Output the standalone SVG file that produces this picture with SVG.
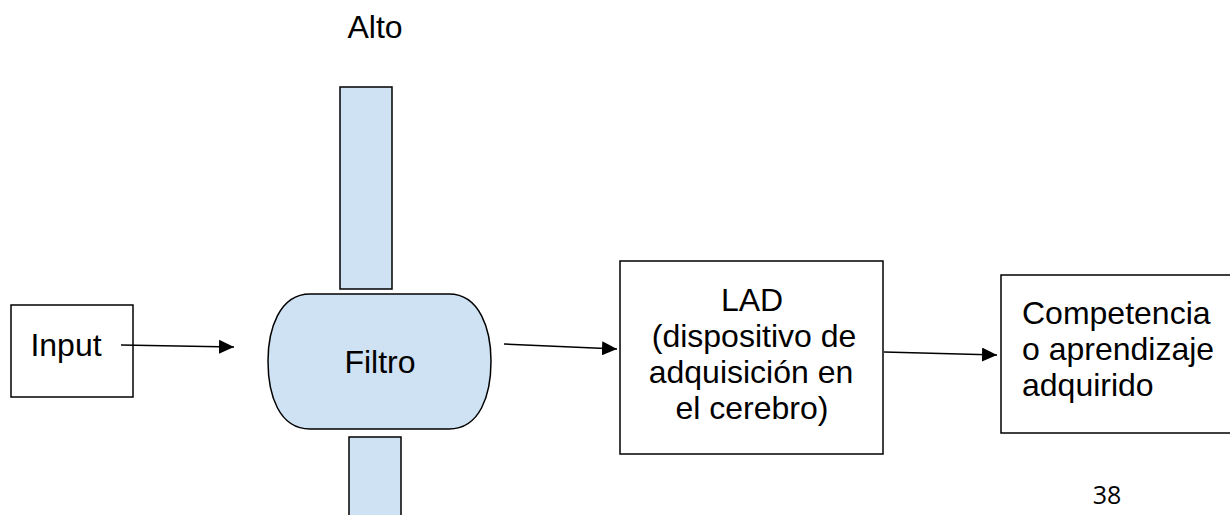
<svg xmlns="http://www.w3.org/2000/svg" width="1230" height="515" viewBox="0 0 1230 515">
<defs>
<style>
.t{font-family:"Liberation Sans",Arial,sans-serif;font-size:32px;fill:#000}
.box{fill:#fff;stroke:#000;stroke-width:1.5}
.blue{fill:#cfe2f3;stroke:#000;stroke-width:1.5}
.ln{stroke:#000;stroke-width:1.5;fill:none;marker-end:url(#ah)}
</style>
<marker id="ah" markerWidth="15" markerHeight="14" refX="15" refY="7" orient="auto" markerUnits="userSpaceOnUse">
<path d="M0,0 L15,7 L0,14 Z" fill="#000"/>
</marker>
</defs>
<rect width="1230" height="515" fill="#fff"/>
<text id="alto" class="t" x="375" y="38" text-anchor="middle">Alto</text>
<g id="filtro-top"><rect class="blue" x="340" y="87" width="52" height="202"/></g>
<g id="filtro-bottom"><rect class="blue" x="349" y="437" width="52" height="85"/></g>
<g id="filtro">
<path class="blue" d="M310 294 H449 C480 294 491 330 491 361 C491 395 480 429 449 429 H310 C279 429 268 395 268 361 C268 330 279 294 310 294 Z"/>
<text class="t" x="380" y="373" text-anchor="middle">Filtro</text>
</g>
<g id="input">
<rect class="box" x="11" y="305" width="122" height="92"/>
<text class="t" x="66" y="356" text-anchor="middle">Input</text>
</g>
<g id="lad">
<rect class="box" x="620" y="261" width="263" height="193"/>
<text class="t" x="752" y="311" text-anchor="middle">LAD</text>
<text class="t" x="754" y="347" text-anchor="middle">(dispositivo de</text>
<text class="t" x="751" y="383" text-anchor="middle">adquisición en</text>
<text class="t" x="752" y="419" text-anchor="middle">el cerebro)</text>
</g>
<g id="competencia">
<rect class="box" x="1001" y="275" width="240" height="158"/>
<text class="t" x="1022" y="324">Competencia</text>
<text class="t" x="1022" y="360">o aprendizaje</text>
<text class="t" x="1022" y="396">adquirido</text>
</g>
<text id="page" x="1107" y="504" text-anchor="middle" style="font-family:'Open Sans','Noto Sans',sans-serif;font-size:25px;fill:#000">38</text>
<g id="connectors">
<path class="ln" d="M121 345 L234 347"/>
<path class="ln" d="M504 344 L617 349"/>
<path class="ln" d="M884 352 L997 355"/>
</g>
</svg>
